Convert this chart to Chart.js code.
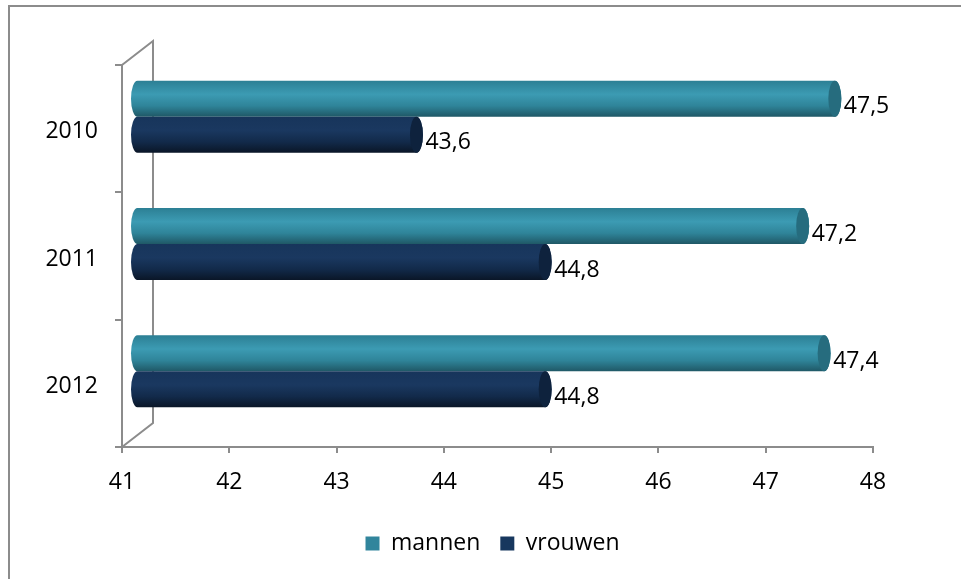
<!DOCTYPE html>
<html>
<head>
<meta charset="utf-8">
<script src="https://cdn.jsdelivr.net/npm/chart.js@4"></script>
<style>
  html, body { margin: 0; padding: 0; background: #fff; }
  #wrap { position: relative; width: 961px; height: 579px; }
  #frame { position: absolute; left: 8px; top: 5px; width: 960px; height: 580px;
           border-left: 2px solid #8c8c8c; border-top: 2px solid #8c8c8c; }
</style>
</head>
<body>
<div id="wrap">
  <div id="frame"></div>
  <canvas id="bar-chart" width="961" height="579" style="position:absolute;left:0;top:0;"></canvas>
</div>
<script>
const years = ['2010', '2011', '2012'];
const mannen = [47.5, 47.2, 47.4];
const vrouwen = [43.6, 44.8, 44.8];
const xMin = 41;
const xMax = 48;

const FONT = '"Open Sans", sans-serif';
const FSIZE = 23;
const AXIS = '#8c8c8c';
// depth of the 3d box, bars sit halfway in
const DX = 31, DY = -24;

const shades = {
  mannen: { base: '#31859C', stops: ['#2c7f94', '#3c9bb3', '#2f8499', '#1f5866'], cap: '#266c7e' },
  vrouwen: { base: '#17375E', stops: ['#17355b', '#1a3860', '#122a4a', '#0a1627'], cap: '#0e223d' }
};

const wallPlugin = {
  id: 'wall',
  afterLayout(chart) {
    // legend sits a bit right of the plot centre in the original
    chart.legend.left += 56;
    chart.legend.right += 56;
  },
  beforeDatasetsDraw(chart) {
    const { ctx, chartArea: a } = chart;
    ctx.save();
    ctx.strokeStyle = AXIS;
    ctx.lineWidth = 2;
    ctx.beginPath();
    ctx.moveTo(a.left, a.top);
    ctx.lineTo(a.left + DX, a.top + DY);
    ctx.lineTo(a.left + DX, a.bottom + DY);
    ctx.lineTo(a.left, a.bottom);
    ctx.stroke();
    ctx.restore();
  }
};

function cylinder(ctx, x0, x1, yc, h, sh) {
  const top = yc - h / 2, rx = 6.5, ry = h / 2;
  const g = ctx.createLinearGradient(0, top, 0, top + h);
  g.addColorStop(0, sh.stops[0]);
  g.addColorStop(0.38, sh.stops[1]);
  g.addColorStop(0.7, sh.stops[2]);
  g.addColorStop(1, sh.stops[3]);
  ctx.fillStyle = g;
  ctx.beginPath();
  ctx.moveTo(x1, top);
  ctx.lineTo(x0, top);
  ctx.ellipse(x0, yc, rx, ry, 0, -Math.PI / 2, Math.PI / 2, true);
  ctx.lineTo(x1, top + h);
  ctx.ellipse(x1, yc, rx, ry, 0, Math.PI / 2, -Math.PI / 2, true);
  ctx.closePath();
  ctx.fill();
  ctx.fillStyle = sh.cap;
  ctx.beginPath();
  ctx.ellipse(x1, yc, rx, ry, 0, 0, Math.PI * 2);
  ctx.fill();
}

const cylinderPlugin = {
  id: 'cylinders',
  beforeDatasetsDraw(chart) {
    const ctx = chart.ctx;
    const ox = DX / 2, oy = DY / 2;
    const base = chart.scales.x.getPixelForValue(xMin);
    ctx.save();
    chart.data.datasets.forEach((ds, di) => {
      const meta = chart.getDatasetMeta(di);
      const sh = shades[ds.label];
      meta.data.forEach((el) => {
        cylinder(ctx, base + ox, el.x + ox, el.y + oy, el.height, sh);
      });
    });
    ctx.fillStyle = '#000';
    ctx.font = FSIZE + 'px ' + FONT;
    ctx.textAlign = 'left';
    ctx.textBaseline = 'middle';
    chart.data.datasets.forEach((ds, di) => {
      const meta = chart.getDatasetMeta(di);
      meta.data.forEach((el, i) => {
        const txt = ds.data[i].toFixed(1).replace('.', ',');
        ctx.fillText(txt, el.x + ox + 9, el.y + oy + 8);
      });
    });
    ctx.restore();
    return false;
  }
};

new Chart(document.getElementById('bar-chart'), {
  type: 'bar',
  data: {
    labels: years,
    datasets: [
      { label: 'mannen', data: mannen, backgroundColor: shades.mannen.base },
      { label: 'vrouwen', data: vrouwen, backgroundColor: shades.vrouwen.base }
    ]
  },
  options: {
    indexAxis: 'y',
    responsive: false,
    animation: false,
    devicePixelRatio: 1,
    layout: { padding: { top: 65, right: 88, bottom: 14, left: 0 } },
    categoryPercentage: 0.566,
    barPercentage: 1,
    scales: {
      x: {
        min: xMin,
        max: xMax,
        afterFit(s) { s.height = 65; },
        border: { color: AXIS, width: 2 },
        grid: { drawOnChartArea: false, color: AXIS, lineWidth: 2, tickLength: 6 },
        ticks: { stepSize: 1, color: '#000', font: { family: FONT, size: FSIZE }, padding: 16 }
      },
      y: {
        afterFit(s) { s.width = 122; },
        border: { color: AXIS, width: 2 },
        grid: { drawOnChartArea: false, offset: true, color: AXIS, lineWidth: 2, tickLength: 7 },
        ticks: { color: '#000', font: { family: FONT, size: FSIZE }, padding: 17, labelOffset: 3 }
      }
    },
    plugins: {
      legend: {
        position: 'bottom',
        labels: {
          boxWidth: 14,
          boxHeight: 14,
          padding: 20,
          color: '#000',
          font: { family: FONT, size: FSIZE }
        }
      },
      tooltip: { enabled: false }
    }
  },
  plugins: [wallPlugin, cylinderPlugin]
});
</script>
</body>
</html>
